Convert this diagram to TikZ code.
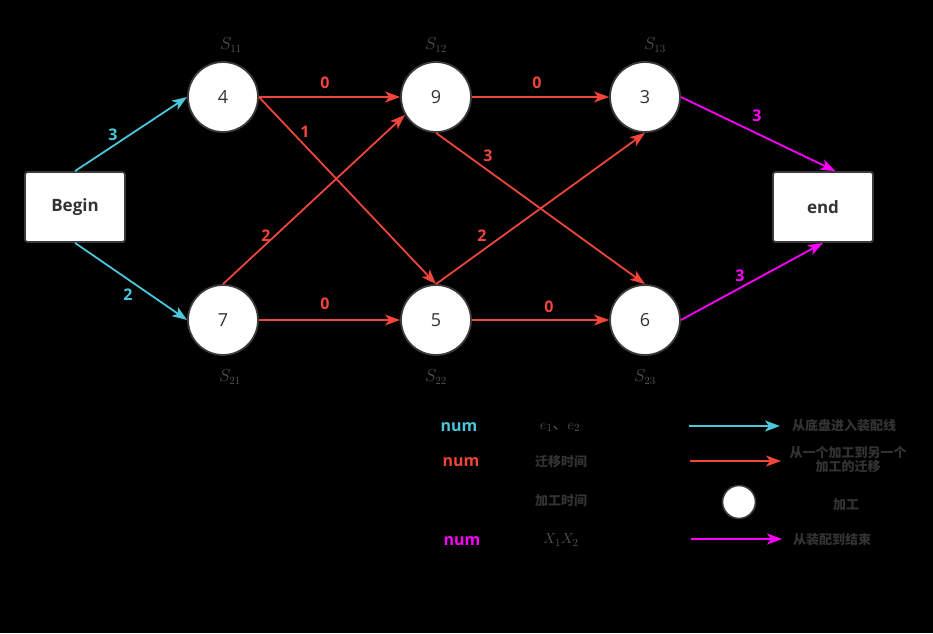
\documentclass[tikz,border=0pt]{standalone}
\usepackage{fontspec}
\setmainfont{Open Sans}
\newfontfamily\cjk{Noto Sans CJK SC}
\usetikzlibrary{arrows.meta}
\definecolor{cy}{HTML}{4CC6DA}
\definecolor{rd}{HTML}{F0453A}
\definecolor{mg}{HTML}{FF00FF}
\definecolor{edgegray}{HTML}{3A3A3A}
\definecolor{txt}{HTML}{333333}
\definecolor{sublab}{HTML}{555555}
\tikzset{
  proc/.style={circle, draw=edgegray, line width=1.8pt, fill=white, minimum size=70pt, inner sep=0pt, text=txt, font=\fontsize{18}{20}\selectfont},
  endbox/.style={rectangle, rounded corners=2.5pt, draw=edgegray, line width=1.8pt, fill=white, minimum width=100pt, minimum height=70pt, inner sep=0pt, text=txt, font=\fontsize{17}{19}\selectfont\bfseries},
  slab/.style={text=sublab, font=\fontsize{16}{18}\selectfont},
  wlab/.style={font=\fontsize{16}{18}\selectfont\bfseries, inner sep=1pt},
  arr/.style={line width=1.8pt, -{Stealth[length=15pt,width=11pt,inset=4pt]}},
  cyarr/.style={arr, draw=cy},
  rdarr/.style={arr, draw=rd},
  mgarr/.style={arr, draw=mg},
  legtxt/.style={text=txt, font=\cjk\fontsize{13}{15}\selectfont\bfseries, align=center},
  legmath/.style={text=sublab, font=\fontsize{15}{17}\selectfont},
  numlab/.style={font=\fontsize{16}{18}\selectfont\bfseries, inner sep=1pt},
}
\begin{document}
\begin{tikzpicture}[x=1pt,y=-1pt]
\fill[black] (0,0) rectangle (933,633);
\useasboundingbox (0,0) rectangle (933,633);

% nodes
\node[endbox] (begin) at (75,207) {Begin};
\node[endbox] (end) at (823,207) {end};
\node[proc] (s11) at (223,97) {4};
\node[proc] (s12) at (436,97) {9};
\node[proc] (s13) at (645,97) {3};
\node[proc] (s21) at (223,320) {7};
\node[proc] (s22) at (436,320) {5};
\node[proc] (s23) at (645,320) {6};

% state labels
\node[slab] (l11) at (231,45) {$S_{11}$};
\node[slab] (l12) at (436,45) {$S_{12}$};
\node[slab] (l13) at (655,45) {$S_{13}$};
\node[slab] (l21) at (230,377) {$S_{21}$};
\node[slab] (l22) at (436,377) {$S_{22}$};
\node[slab] (l23) at (645,377) {$S_{23}$};

% entry edges
\draw[cyarr] (begin.north) -- (s11.west);
\draw[cyarr] (begin.south) -- (s21.west);
\node[wlab, text=cy] (w1) at (113,135) {3};
\node[wlab, text=cy] (w2) at (128,295) {2};

% transfers
\draw[rdarr] (s11.east) -- (s12.west);
\draw[rdarr] (s11.east) -- (s22.north);
\draw[rdarr] (s21.north) -- (s12.210);
\draw[rdarr] (s21.east) -- (s22.west);
\draw[rdarr] (s12.east) -- (s13.west);
\draw[rdarr] (s12.south) -- (s23.north);
\draw[rdarr] (s22.north) -- (s13.south);
\draw[rdarr] (s22.east) -- (s23.west);
\node[wlab, text=rd] (w3) at (325,83) {0};
\node[wlab, text=rd] (w4) at (305,132) {1};
\node[wlab, text=rd] (w5) at (266,236) {2};
\node[wlab, text=rd] (w6) at (325,304) {0};
\node[wlab, text=rd] (w7) at (537,83) {0};
\node[wlab, text=rd] (w8) at (488,156) {3};
\node[wlab, text=rd] (w9) at (482,236) {2};
\node[wlab, text=rd] (w10) at (549,307) {0};

% exit edges
\draw[mgarr] (s13.east) -- (end.71);
\draw[mgarr] (s23.east) -- (end.south);
\node[wlab, text=mg] (w11) at (757,116) {3};
\node[wlab, text=mg] (w12) at (740,276) {3};

% legend
\node[numlab, text=cy] (n1) at (459,427) {num};
\node[numlab, text=rd] (n2) at (461,462) {num};
\node[numlab, text=mg] (n3) at (462,541) {num};
\node[legmath] (m1) at (560,427) {$e_1$\cjk{、}$e_2$};
\node[legtxt] (m2) at (561,462) {迁移时间};
\node[legtxt] (m3) at (561,501) {加工时间};
\node[legmath] (m4) at (561,540) {$X_1X_2$};

\coordinate (a1s) at (689,426); \coordinate (a1e) at (780,426);
\coordinate (a2s) at (690,461); \coordinate (a2e) at (781,461);
\coordinate (a3s) at (691,539); \coordinate (a3e) at (782,539);
\draw[cyarr] (a1s) -- (a1e);
\draw[rdarr] (a2s) -- (a2e);
\draw[mgarr] (a3s) -- (a3e);
\node[circle, draw=edgegray, line width=1.6pt, fill=white, minimum size=33pt, inner sep=0pt] (lc) at (739,502) {};
\node[legtxt] (t1) at (844,426) {从底盘进入装配线};
\node[legtxt, font=\cjk\fontsize{13}{14}\selectfont\bfseries] (t2) at (848,460) {从一个加工到另一个\\加工的迁移};
\node[legtxt] (t3) at (846,505) {加工};
\node[legtxt] (t4) at (832,540) {从装配到结束};
\end{tikzpicture}
\end{document}
